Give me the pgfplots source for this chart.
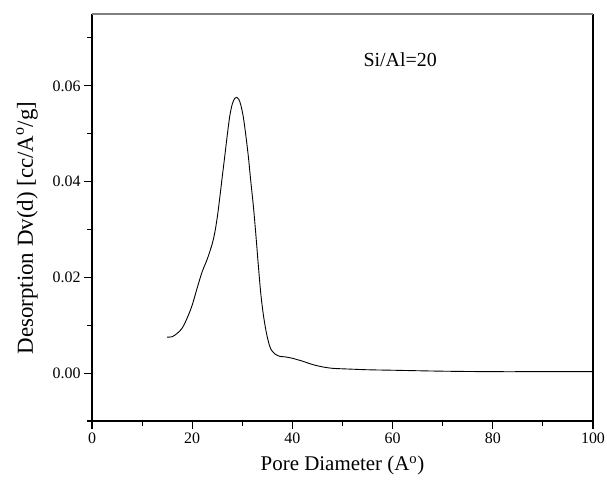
\documentclass[border=0pt]{standalone}
\usepackage{fontspec}
\setmainfont{Liberation Serif}
\usepackage{pgfplots}
\pgfplotsset{compat=1.18}

\begin{document}
\begin{tikzpicture}
\begin{axis}[
  name=ax,
  scale only axis,
  width=501bp, height=407bp,
  xmin=0, xmax=100,
  ymin=-0.01, ymax=0.075,
  axis x line*=bottom,
  axis y line*=left,
  axis line style={line width=1.1bp, black},
  xtick={0,20,40,60,80,100},
  ytick={0,0.02,0.04,0.06},
  minor x tick num=1,
  minor ytick={-0.01,0.01,0.03,0.05,0.07},
  tick align=outside,
  major tick length=8bp,
  minor tick length=5bp,
  tick style={line width=1.1bp, black},
  scaled y ticks=false,
  yticklabel style={/pgf/number format/.cd, fixed, fixed zerofill, precision=2},
  /pgf/number format/assume math mode=true,
  tick label style={font=\fontsize{16}{19}\selectfont},
  xlabel={Pore Diameter (A$^{\mathrm{o}}$)},
  ylabel={Desorption Dv(d) [cc/A$^{\mathrm{o}}$/g]},
  xlabel style={font=\fontsize{21}{25}\selectfont, yshift=-6bp},
  ylabel style={font=\fontsize{23}{27}\selectfont, at={(ticklabel cs:0.474)}, yshift=8bp},
  clip=false,
]
\draw[line width=1.1bp, black] (rel axis cs:1,0) -- (rel axis cs:1,1);
\draw[line width=1.1bp, gray] (rel axis cs:0,1) -- (rel axis cs:1,1);

\addplot[black, line width=0.9bp, smooth] coordinates {
  (15,0.0075) (16,0.0076) (17,0.0083) (18,0.0094) (19,0.0115)
  (20,0.0142) (21,0.0178) (22,0.0212) (23,0.0238) (24,0.0270)
  (24.5,0.0293) (25,0.0325) (25.5,0.0366) (26,0.0410) (26.5,0.0453)
  (27,0.0497) (27.5,0.0537) (28,0.0562) (28.5,0.0574) (28.9,0.0576)
  (29.3,0.0572) (29.7,0.0560) (30.2,0.0535) (30.7,0.0497) (31.2,0.0453)
  (31.7,0.0400) (32.2,0.0350) (32.7,0.0290) (33.2,0.0225) (33.7,0.0165)
  (34.2,0.0122) (34.7,0.0090) (35.2,0.0066) (35.7,0.0050) (36.5,0.0040)
  (37.5,0.0035) (38.5,0.0034) (40,0.0031) (41,0.0028) (42,0.0025)
  (44,0.0018) (46,0.0013) (48,0.0010) (50,0.0009) (55,0.0007)
  (60,0.0006) (70,0.0004) (80,0.0003) (90,0.0003) (100,0.0003)
};

\node[anchor=west, font=\fontsize{20}{24}\selectfont] at (axis cs:53.5,0.0654) {Si/Al=20};
\end{axis}
\pgfresetboundingbox
\path ([shift={(-92bp,-78bp)}]ax.south west) rectangle ([shift={(14bp,14bp)}]ax.north east);
\end{tikzpicture}
\end{document}
